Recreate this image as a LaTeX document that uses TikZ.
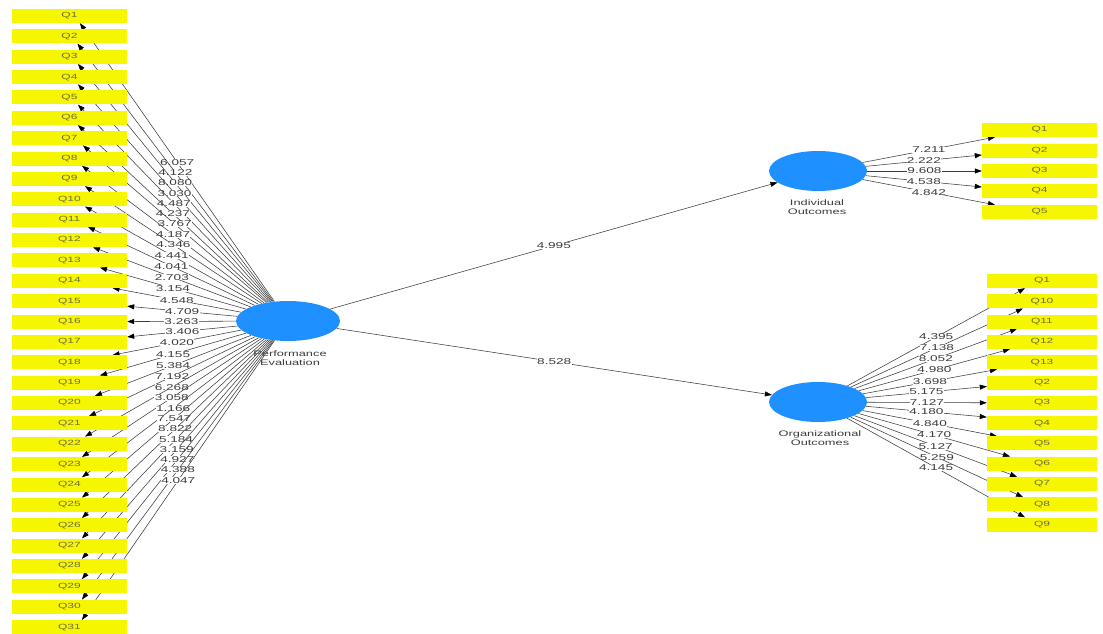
\documentclass[tikz,border=0pt]{standalone}
\usepackage{fontspec}
\usetikzlibrary{arrows.meta,shapes.geometric,backgrounds}
\newfontfamily\lblfont[FakeStretch=1.6]{Liberation Sans}
\definecolor{qyellow}{RGB}{246,246,0}
\definecolor{lvblue}{RGB}{30,144,255}
\definecolor{qtext}{RGB}{110,110,60}
\definecolor{lgrey}{RGB}{60,60,60}
\begin{document}
\begin{tikzpicture}[x=1pt,y=-1pt,
 ind/.style={rectangle,fill=qyellow,minimum width=115pt,minimum height=14pt,inner sep=0pt,font=\lblfont\fontsize{7.5}{8}\selectfont,text=qtext},
 lv/.style={ellipse,fill=lvblue,minimum width=104pt,minimum height=40pt,inner sep=0pt},
 lvlab/.style={font=\lblfont\fontsize{8}{9.5}\selectfont,text=lgrey,align=center},
 conn/.style={draw=lgrey,line width=0.55pt,-{Triangle[length=7pt,width=5pt,color=black]}},
 wt/.style={midway,fill=white,inner sep=0.3pt,font=\lblfont\fontsize{8.5}{9}\selectfont,text=lgrey}]
\useasboundingbox (0,0) rectangle (1103,634);

% latent variables
\node[lv] (pe) at (288,321) {};
\node[lv,minimum width=98pt] (io) at (818,171) {};
\node[lv,minimum width=98pt] (oo) at (818,402) {};
\node[lvlab] (pel) at (290,358) {Performance\\Evaluation};
\node[lvlab] (iol) at (817,207) {Individual\\Outcomes};
\node[lvlab] (ool) at (820,438) {Organizational\\Outcomes};

% left indicators
\foreach \i in {1,...,31}
  \node[ind] (L\i) at (69.5,{16+20.37*(\i-1)}) {Q\i};

% right top indicators
\foreach \i/\y in {1/130,2/151,3/171,4/191,5/212}
  \node[ind] (R\i) at (1039.5,\y) {Q\i};

% right bottom indicators
\foreach \k/\t in {0/Q1,1/Q10,2/Q11,3/Q12,4/Q13,5/Q2,6/Q3,7/Q4,8/Q5,9/Q6,10/Q7,11/Q8,12/Q9}
  \node[ind,minimum width=110pt] (O\k) at (1042,{281+20.3*\k}) {\t};

\begin{scope}[on background layer]
\fill[white] (0,0) rectangle (1103,634);
\foreach \i/\anc/\dx/\dy/\w in {
 1/south/10.5/0/6.057, 2/south/8/0/4.122, 3/south/8.5/0/8.080, 4/south/8.5/0/3.030,
 5/south/8.5/0/4.487, 6/south/8.5/0/4.237, 7/south/13.5/0/3.767, 8/south/12.5/0/4.187,
 9/south/15.5/0/4.346, 10/south/15.5/0/4.441, 11/south/18.5/0/4.041, 12/south/23.5/0/2.703,
 13/south/30.5/0/3.154, 14/south/43/0/4.548, 15/east/0/-5/4.709, 16/east/0/0/3.263,
 17/east/0/5/3.406, 18/north/43/0/4.020, 19/north/30.5/0/4.155, 20/north/25.5/0/5.384,
 21/north/19.5/0/7.192, 22/north/15.5/0/6.268, 23/north/12.5/0/3.058, 24/north/12.5/0/1.166,
 25/north/12.5/0/7.547, 26/north/12.5/0/8.822, 27/north/12.5/0/5.184, 28/north/12.5/0/3.159,
 29/north/12.5/0/4.927, 30/north/12.5/0/4.388, 31/north/12.5/0/4.047}
  \draw[conn] (pe) -- ([xshift=\dx pt,yshift=\dy pt]L\i.\anc) node[wt] {\w};

\foreach \i/\anc/\dx/\dy/\w in {
 1/south/-44.5/0/7.211, 2/west/0/-4/2.222, 3/west/0/0/9.608, 4/west/0/4/4.538, 5/north/-44.5/0/4.842}
  \draw[conn] (io) -- ([xshift=\dx pt,yshift=\dy pt]R\i.\anc) node[wt] {\w};

\foreach \k/\anc/\dx/\dy/\w in {
 0/south/-17/0/4.395, 1/south/-19/0/7.138, 2/south/-25/0/8.052, 3/south/-32/0/4.980,
 4/south/-45/0/3.698, 5/west/0/-4/5.175, 6/west/0/0/7.127, 7/west/0/6/4.180,
 8/north/-45/0/4.840, 9/north/-32/0/4.170, 10/north/-25/0/5.127, 11/north/-19/0/5.259,
 12/north/-17/0/4.145}
  \draw[conn] (oo) -- ([xshift=\dx pt,yshift=\dy pt]O\k.\anc) node[wt] {\w};

\draw[conn] (pe) -- (io) node[wt] {4.995};
\draw[conn] (pe) -- (oo) node[wt] {8.528};
\end{scope}
\end{tikzpicture}
\end{document}
